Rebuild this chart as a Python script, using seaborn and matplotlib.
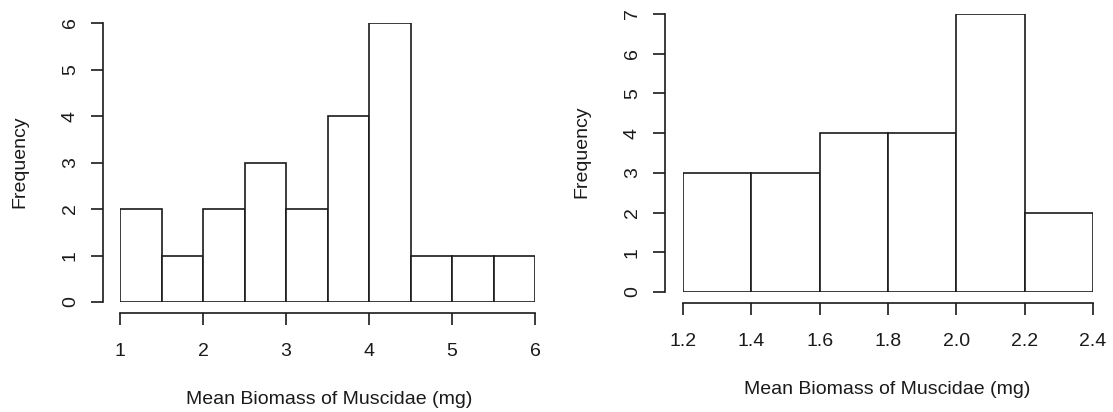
import matplotlib
matplotlib.use("Agg")
import matplotlib.pyplot as plt
import seaborn as sns
import numpy as np
import pandas as pd

# ---- data ----
left_edges = [1.0, 1.5, 2.0, 2.5, 3.0, 3.5, 4.0, 4.5, 5.0, 5.5, 6.0]
left_counts = [2, 1, 2, 3, 2, 4, 6, 1, 1, 1]
left_xticks = [1, 2, 3, 4, 5, 6]
left_xticklabels = ["1", "2", "3", "4", "5", "6"]
left_yticks = [0, 1, 2, 3, 4, 5, 6]

right_edges = [1.2, 1.4, 1.6, 1.8, 2.0, 2.2, 2.4]
right_counts = [3, 3, 4, 4, 7, 2]
right_xticks = [1.2, 1.4, 1.6, 1.8, 2.0, 2.2, 2.4]
right_xticklabels = ["1.2", "1.4", "1.6", "1.8", "2.0", "2.2", "2.4"]
right_yticks = [0, 1, 2, 3, 4, 5, 6, 7]

xlabel_text = "Mean Biomass of Muscidae (mg)"
ylabel_text = "Frequency"

sns.set_style("white")
plt.rcParams["font.family"] = ["Liberation Sans", "DejaVu Sans"]

W, H = 1113, 412
fig = plt.figure(figsize=(W / 100, H / 100), dpi=100)
fig.patch.set_facecolor("white")

INK = "#1a1a1a"
FS = 14
LW = 1.2


def panel(rect, edges, counts, xticks, xticklabels, yticks, left_off_px,
          xlabel_xy, ylabel_xy):
    ax = fig.add_axes(rect)
    mids = [(a + b) / 2 for a, b in zip(edges[:-1], edges[1:])]
    df = pd.DataFrame({"x": mids, "w": counts})
    sns.histplot(data=df, x="x", weights="w", bins=edges, stat="count",
                 color="white", edgecolor=INK, linewidth=LW, alpha=1,
                 ax=ax)
    ax.set_xlim(edges[0], edges[-1])
    ax.set_ylim(0, yticks[-1])
    ax.set_facecolor("none")
    for s in ["top", "right"]:
        ax.spines[s].set_visible(False)
    ax.spines["left"].set_position(("outward", left_off_px * 0.72))
    ax.spines["bottom"].set_position(("outward", 11 * 0.72))
    ax.spines["left"].set_bounds(yticks[0], yticks[-1])
    ax.spines["bottom"].set_bounds(xticks[0], xticks[-1])
    for s in ["left", "bottom"]:
        ax.spines[s].set_color(INK)
        ax.spines[s].set_linewidth(LW)
    ax.set_xticks(xticks)
    ax.set_xticklabels(xticklabels)
    ax.set_yticks(yticks)
    ax.set_yticklabels([str(v) for v in yticks])
    ax.tick_params(axis="both", direction="out", length=8.3, width=LW,
                   color=INK, labelcolor=INK, labelsize=FS,
                   bottom=True, left=True)
    ax.tick_params(axis="x", pad=13)
    ax.tick_params(axis="y", pad=9, labelrotation=90)
    for lbl in ax.get_yticklabels():
        lbl.set_va("center")
        lbl.set_ha("right")
    ax.set_xlabel(xlabel_text, fontsize=FS, color=INK, va="center",
                  ha="center")
    ax.xaxis.set_label_coords(xlabel_xy[0] / W, 1 - xlabel_xy[1] / H,
                              transform=fig.transFigure)
    ax.set_ylabel(ylabel_text, fontsize=FS, color=INK, va="center",
                  ha="center")
    ax.yaxis.set_label_coords(ylabel_xy[0] / W, 1 - ylabel_xy[1] / H,
                              transform=fig.transFigure)
    ax.grid(False)
    return ax


# left panel: x 1..6 -> px 120..535, y 0..6 -> px 302..23
panel([120 / W, (H - 302) / H, 415 / W, 279 / H],
      left_edges, left_counts, left_xticks, left_xticklabels, left_yticks,
      17, (329, 400), (20, 162))

# right panel: x 1.2..2.4 -> px 683..1093, y 0..7 -> px 292..14
panel([683 / W, (H - 292) / H, 410 / W, 278 / H],
      right_edges, right_counts, right_xticks, right_xticklabels, right_yticks,
      18, (887, 390), (582, 152))

fig.savefig("out.png", dpi=100, facecolor="white")
